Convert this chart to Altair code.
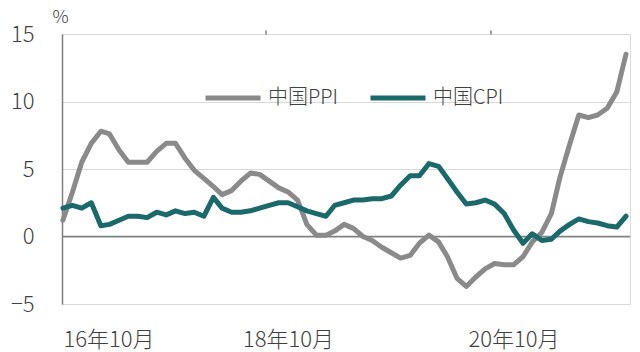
import altair as alt
import pandas as pd

months = pd.date_range("2016-10-01", "2021-10-01", freq="MS")

ppi = [1.2, 3.3, 5.5,
       6.9, 7.8, 7.6, 6.4, 5.5, 5.5, 5.5, 6.3, 6.9, 6.9, 5.8, 4.9,
       4.3, 3.7, 3.1, 3.4, 4.1, 4.7, 4.6, 4.1, 3.6, 3.3, 2.7, 0.9,
       0.1, 0.1, 0.4, 0.9, 0.6, 0.0, -0.3, -0.8, -1.2, -1.6, -1.4, -0.5,
       0.1, -0.4, -1.5, -3.1, -3.7, -3.0, -2.4, -2.0, -2.1, -2.1, -1.5, -0.4,
       0.3, 1.7, 4.4, 6.8, 9.0, 8.8, 9.0, 9.5, 10.7, 13.5]
cpi = [2.1, 2.3, 2.1,
       2.5, 0.8, 0.9, 1.2, 1.5, 1.5, 1.4, 1.8, 1.6, 1.9, 1.7, 1.8,
       1.5, 2.9, 2.1, 1.8, 1.8, 1.9, 2.1, 2.3, 2.5, 2.5, 2.2, 1.9,
       1.7, 1.5, 2.3, 2.5, 2.7, 2.7, 2.8, 2.8, 3.0, 3.8, 4.5, 4.5,
       5.4, 5.2, 4.3, 3.3, 2.4, 2.5, 2.7, 2.4, 1.7, 0.5, -0.5, 0.2,
       -0.3, -0.2, 0.4, 0.9, 1.3, 1.1, 1.0, 0.8, 0.7, 1.5]

series_names = ["中国PPI", "中国CPI"]
series_colors = ["#8a8a8a", "#1a6a6c"]
y_ticks = [-5, 0, 5, 10, 15]
x_label_dates = [alt.DateTime(year=2016, month=10, date=1),
                 alt.DateTime(year=2018, month=10, date=1),
                 alt.DateTime(year=2020, month=10, date=1)]

df = pd.DataFrame({
    "date": list(months) * 2,
    "value": ppi + cpi,
    "series": [series_names[0]] * len(ppi) + [series_names[1]] * len(cpi),
})

FONT = "Noto Sans CJK JP Light, Noto Sans CJK JP DemiLight, Noto Sans CJK JP"
TXT = "#404040"
W = 300

x_scale = alt.Scale(domain=[alt.DateTime(year=2016, month=9, date=28),
                            alt.DateTime(year=2021, month=10, date=14)])
y_scale = alt.Scale(domain=[-5, 15], nice=False)

lines = alt.Chart(df).mark_line(strokeWidth=5, strokeCap="round", strokeJoin="round").encode(
    x=alt.X("date:T", scale=x_scale,
            axis=alt.Axis(orient="bottom", values=x_label_dates, format="%y年%m月",
                          domain=False, ticks=False, grid=False, title=None,
                          labelFontSize=22, labelPadding=25, labelColor=TXT,
                          labelFont=FONT, labelFontWeight=W)),
    y=alt.Y("value:Q", scale=y_scale,
            axis=alt.Axis(values=y_ticks, grid=True, gridColor="#d9d9d9", gridWidth=1.2,
                          domain=True, domainColor="#7f7f7f", domainWidth=1.5,
                          ticks=False, tickSize=0, labelPadding=28,
                          labelFontSize=22, labelColor=TXT, labelFont=FONT,
                          labelFontWeight=W,
                          title="%", titleAngle=0, titleX=-2, titleY=-17,
                          titleAlign="center", titleBaseline="middle",
                          titleFontSize=18, titleFontWeight=W,
                          titleColor=TXT, titleFont=FONT)),
    color=alt.Color("series:N", sort=series_names,
                    scale=alt.Scale(domain=series_names, range=series_colors),
                    legend=alt.Legend(title=None, orient="none", direction="horizontal",
                                      legendX=141, legendY=34,
                                      symbolType="stroke", symbolStrokeWidth=5,
                                      symbolSize=3025, labelFontSize=20,
                                      labelFont=FONT, labelColor=TXT,
                                      labelFontWeight=W,
                                      labelOffset=5, columnPadding=22)),
)

tick_layer = alt.Chart(df).mark_point(opacity=0).encode(
    x=alt.X("date:T", scale=x_scale,
            axis=alt.Axis(orient="top", position=202.5, values=x_label_dates,
                          domain=False, ticks=True, tickSize=4, tickColor="#7f7f7f",
                          tickWidth=1.5, labels=False, grid=False, title=None)),
    y=alt.Y("value:Q", scale=y_scale),
)

zero_df = pd.DataFrame({"y": [0]})
zero = alt.Chart(zero_df).mark_rule(color="#7f7f7f", strokeWidth=1.5).encode(
    y=alt.Y("y:Q", scale=y_scale)
)

chart = alt.layer(zero, tick_layer, lines).resolve_axis(x="independent").properties(
    width=568, height=270,
    autosize=alt.AutoSizeParams(type="none"),
    padding={"left": 62, "top": 34, "right": 10, "bottom": 48},
).configure_view(stroke=None).configure(font=FONT)

chart.save("out.html", embed_options={"renderer": "svg", "actions": False})
